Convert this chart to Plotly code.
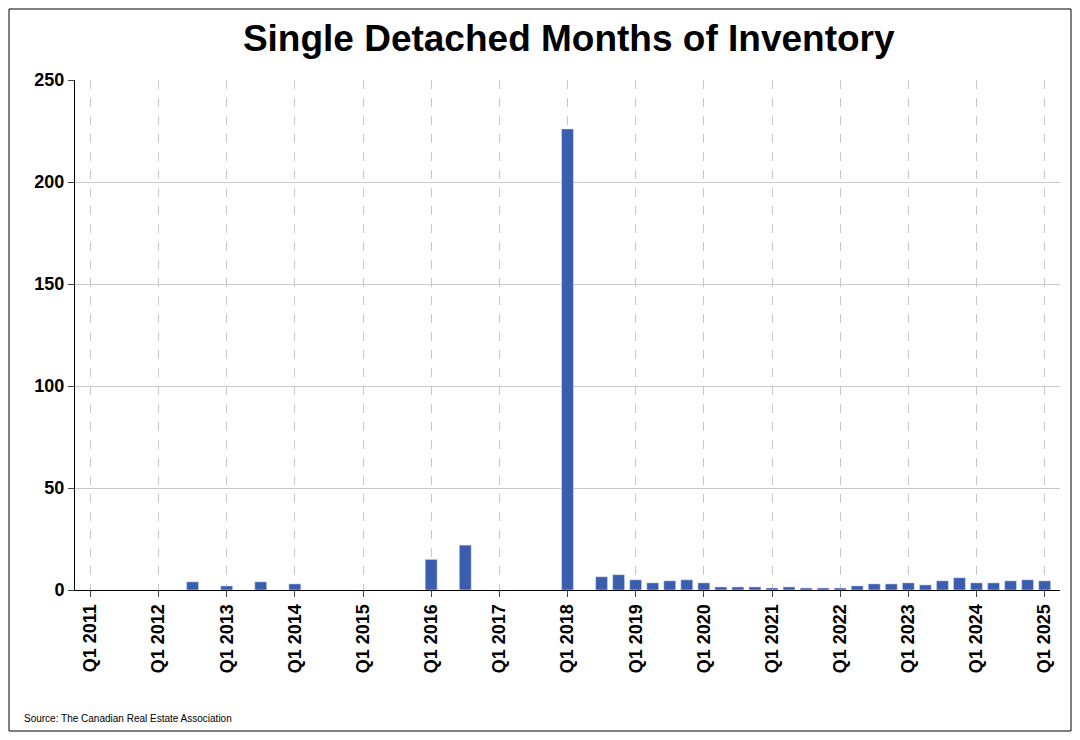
import plotly.graph_objects as go

# Quarterly months of inventory, Q1 2011 .. Q1 2025 (None = no data)
quarters = [f"Q{q} {y}" for y in range(2011, 2026) for q in range(1, 5)][:57]
values = [
    None, None, None, None,          # 2011
    None, None, 4, None,             # 2012
    2, None, 4, None,                # 2013
    3, None, None, None,             # 2014
    None, None, None, None,          # 2015
    15, None, 22, None,              # 2016
    None, None, None, None,          # 2017
    226, None, 6.5, 7.5,             # 2018
    5, 3.5, 4.5, 5,                  # 2019
    3.5, 1.5, 1.5, 1.5,              # 2020
    1, 1.5, 1, 1,                    # 2021
    1, 2, 3, 3,                      # 2022
    3.5, 2.5, 4.5, 6,                # 2023
    3.5, 3.5, 4.5, 5,                # 2024
    4.5,                             # 2025
]
tick_idx = list(range(0, 57, 4))
tick_text = [quarters[i] for i in tick_idx]

fig = go.Figure(go.Bar(
    x=list(range(57)), y=values, marker_color="#3a5dae", width=0.7,
))

pw, ph = 985, 510
fig.update_layout(
    width=1064, height=724,
    paper_bgcolor="white", plot_bgcolor="white",
    margin=dict(l=67, r=12, t=72, b=142),
    title=dict(text="<b>Single Detached Months of Inventory</b>", x=0.527, y=0.958,
               xanchor="center", yanchor="middle",
               font=dict(family="Liberation Sans, Arial", size=37, color="black")),
    font=dict(family="Liberation Sans, Arial", color="black"),
    showlegend=False,
    shapes=[dict(type="rect", xref="paper", yref="paper",
                 x0=-66/pw, x1=1 + 11/pw, y0=-141/ph, y1=1 + 71/ph,
                 line=dict(color="black", width=1))],
    annotations=[dict(text="Source: The Canadian Real Estate Association",
                      xref="paper", yref="paper", x=-53/pw, y=-128/ph,
                      xanchor="left", yanchor="middle", showarrow=False,
                      font=dict(size=10))],
)
fig.update_xaxes(
    range=[-0.9, 56.9], tickvals=tick_idx, ticktext=tick_text, tickangle=-90,
    tickfont=dict(size=18, family="Liberation Sans, Arial", weight="bold"),
    showgrid=True, gridcolor="#c8c8c8", griddash="dash", gridwidth=1,
    showline=True, linecolor="black", ticks="outside", ticklen=6,
    zeroline=False,
)
fig.update_yaxes(
    range=[0, 250], dtick=50,
    tickfont=dict(size=18, family="Liberation Sans, Arial", weight="bold"),
    showgrid=True, gridcolor="#c8c8c8", showline=True, linecolor="black",
    ticks="outside", ticklen=6, zeroline=False,
)

fig.write_html("out.html")
